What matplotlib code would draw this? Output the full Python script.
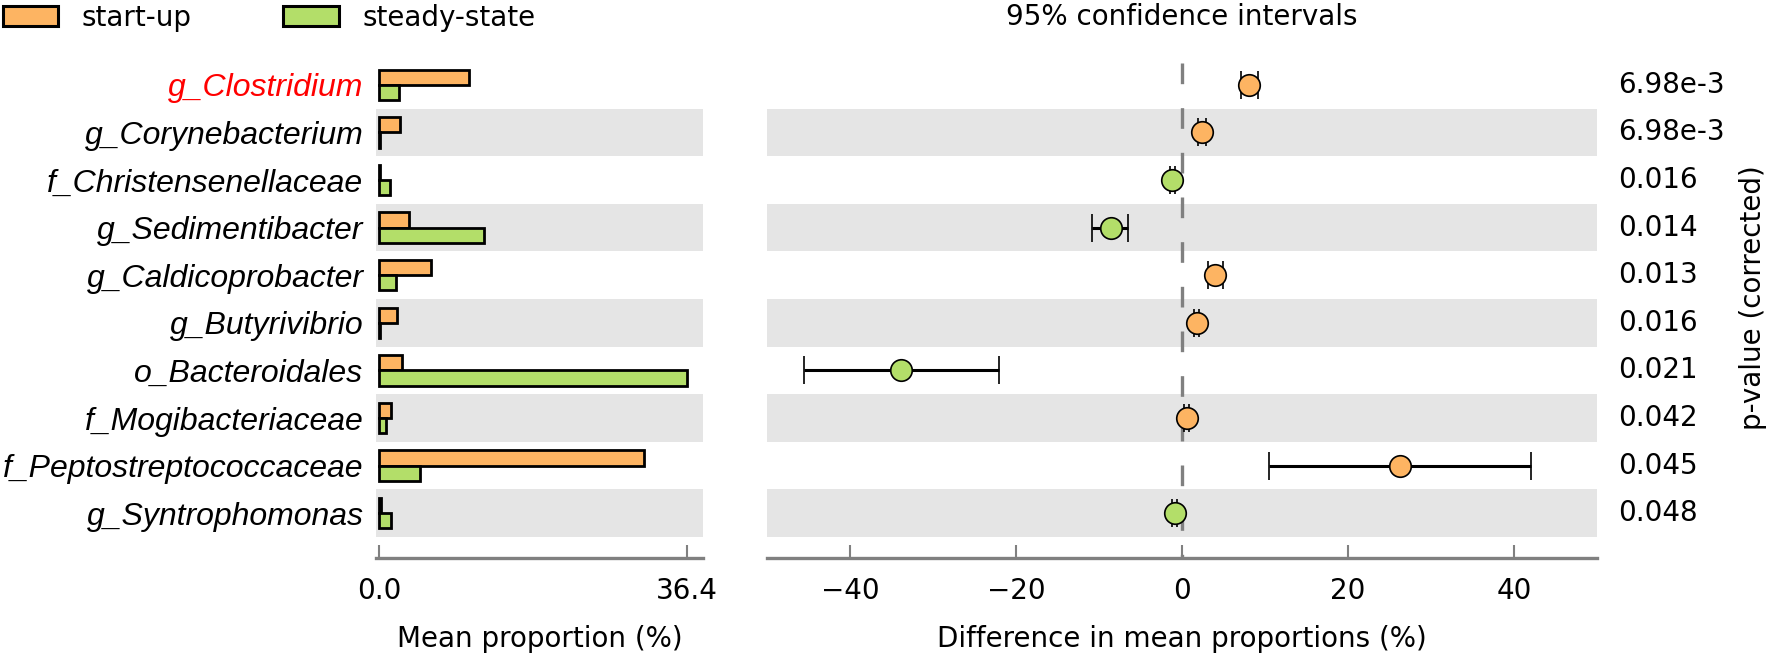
import matplotlib
matplotlib.use("Agg")
import matplotlib.pyplot as plt
from matplotlib.patches import Patch
import matplotlib.transforms as mtransforms

categories = ["g_Clostridium", "g_Corynebacterium", "f_Christensenellaceae",
              "g_Sedimentibacter", "g_Caldicoprobacter", "g_Butyrivibrio",
              "o_Bacteroidales", "f_Mogibacteriaceae", "f_Peptostreptococcaceae",
              "g_Syntrophomonas"]
startup_mean = [10.7, 2.5, 0.1, 3.6, 6.1, 2.1, 2.7, 1.4, 31.3, 0.2]
steady_mean = [2.4, 0.15, 1.3, 12.4, 2.0, 0.1, 36.4, 0.8, 4.9, 1.4]
diff = [8.1, 2.4, -1.2, -8.6, 4.0, 1.8, -33.8, 0.55, 26.3, -0.9]
ci_low = [7.15, 1.9, -1.5, -10.8, 3.1, 1.5, -45.5, 0.3, 10.5, -1.2]
ci_high = [9.15, 2.9, -0.9, -6.5, 4.9, 2.1, -22.0, 0.8, 42.0, -0.6]
pvalues = ["6.98e-3", "6.98e-3", "0.016", "0.014", "0.013", "0.016",
           "0.021", "0.042", "0.045", "0.048"]
group_names = ["start-up", "steady-state"]
left_ticks = [0.0, 36.4]
left_tick_labels = ["0.0", "36.4"]
right_ticks = [-40, -20, 0, 20, 40]

C_START = "#fdb462"
C_STEADY = "#b3de69"
BAND = "#e5e5e5"
SPINE = "#808080"
FS = 20
FS_LAB = 23

W, H = 1772, 653
fig = plt.figure(figsize=(W / 100, H / 100), dpi=100)

def frac(x0, x1, ytop, ybot):
    return [x0 / W, 1 - ybot / H, (x1 - x0) / W, (ybot - ytop) / H]

ax1 = fig.add_axes(frac(376, 703, 61, 558))
ax2 = fig.add_axes(frac(767, 1597, 61, 558))

n = len(categories)
ypos = [n - 1 - i for i in range(n)]
ylim = (-0.94, n - 0.5)

for ax in (ax1, ax2):
    ax.set_ylim(*ylim)
    for i, y in enumerate(ypos):
        if i % 2 == 1:
            ax.axhspan(y - 0.5, y + 0.5, color=BAND, lw=0, zorder=0)
    for s in ("top", "right", "left"):
        ax.spines[s].set_visible(False)
    ax.spines["bottom"].set_color(SPINE)
    ax.spines["bottom"].set_linewidth(2.4)
    ax.tick_params(axis="x", direction="in", length=9.5, width=1.5, color=SPINE,
                   labelsize=FS, pad=14)
    ax.tick_params(axis="y", length=0)

# left panel bars
bh = 0.32
ax1.barh([y + bh / 2 for y in ypos], startup_mean, height=bh, color=C_START,
         edgecolor="black", linewidth=2, zorder=2)
ax1.barh([y - bh / 2 for y in ypos], steady_mean, height=bh, color=C_STEADY,
         edgecolor="black", linewidth=2, zorder=2)
ax1.set_xlim(-0.35, 38.3)
ax1.set_xticks(left_ticks)
ax1.set_xticklabels(left_tick_labels)
ax1.set_yticks(ypos)
ax1.set_yticklabels(categories, fontsize=FS_LAB, style="italic",
                    family=["Liberation Sans", "DejaVu Sans"])
ax1.tick_params(axis="y", pad=9)
ax1.get_yticklabels()[0].set_color("red")
ax1.set_xlabel("Mean proportion (%)", fontsize=FS, labelpad=14)

# right panel
ax2.set_xlim(-50, 50)
ax2.set_xticks(right_ticks)
ax2.set_yticks([])
ax2.plot([0, 0], [ylim[1] - 0.04, ylim[0]], color=SPINE, lw=2.4,
         dashes=(6.2, 7.2), zorder=1)
for i, y in enumerate(ypos):
    col = C_START if diff[i] > 0 else C_STEADY
    ax2.errorbar(diff[i], y, xerr=[[diff[i] - ci_low[i]], [ci_high[i] - diff[i]]],
                 fmt="o", color="black", ecolor="black", elinewidth=2.2, capsize=10,
                 capthick=1.5, markersize=15.5, markerfacecolor=col,
                 markeredgecolor="black", markeredgewidth=1.2, zorder=3)
    ax2.text(1.025, y, pvalues[i], transform=mtransforms.blended_transform_factory(
        ax2.transAxes, ax2.transData), ha="left", va="center", fontsize=FS)
ax2.set_xlabel("Difference in mean proportions (%)", fontsize=FS, labelpad=14)
ax2.set_title("95% confidence intervals", fontsize=FS, pad=26)

fig.text(1753 / W, 1 - 298 / H, "p-value (corrected)", rotation=90,
         ha="center", va="center", fontsize=FS)

handles = [Patch(facecolor=C_START, edgecolor="black", linewidth=2.2),
           Patch(facecolor=C_STEADY, edgecolor="black", linewidth=2.2)]
fig.legend(handles, group_names, loc="upper left", bbox_to_anchor=(0.0015, 0.994),
           ncol=2, frameon=False, fontsize=FS, handlelength=2.0, handleheight=0.7,
           columnspacing=3.3, handletextpad=0.85, borderpad=0, borderaxespad=0)

fig.savefig("out.png", dpi=100)
